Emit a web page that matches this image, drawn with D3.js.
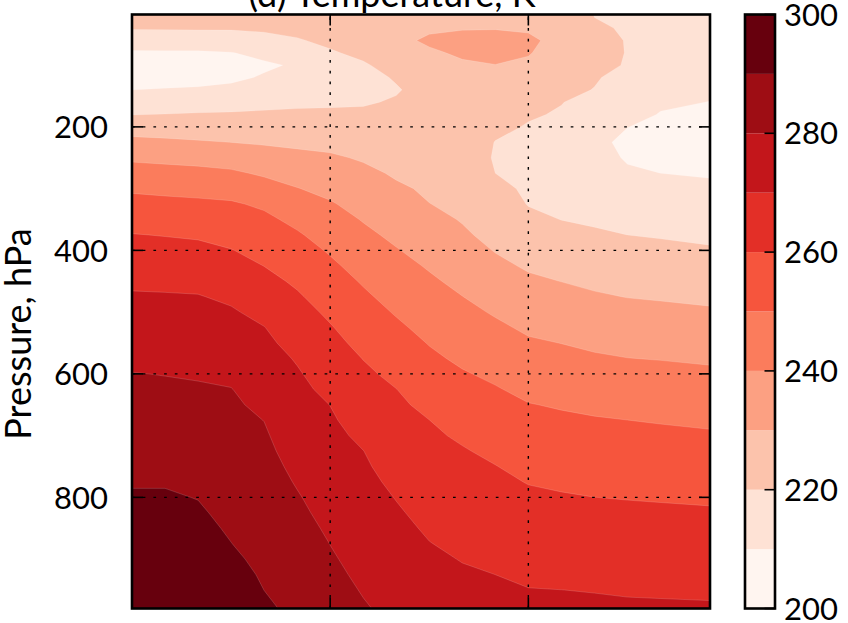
<!DOCTYPE html>
<html><head><meta charset="utf-8">
<script src="https://cdn.jsdelivr.net/npm/d3@7"></script>
<style>
body{margin:0;background:#fff;}
text{font-family:Lato,"Open Sans",sans-serif;fill:#000;}
</style>
</head><body>
<svg id="chart" width="848" height="623"></svg>
<script>
// ---- data ----
const latitudes = [0,5,10,15,20,25,30,35,40,45,50,55,60,65,70,75,80,87.5];
const pressureLevels = [18,40,60,80,100,120,140,160,180,200,225,250,275,300,325,350,375,400,425,450,475,500,525,550,575,600,625,650,675,700,725,750,775,800,825,850,875,900,925,950,980];
// temperature profile (K) at each latitude, one value per pressure level
const tempLat00 = [226,220.7,214.3,209.0,206.3,207.3,209.95,214.9,219.8,225.7,232.5,238.5,243.8,248.7,252.9,256.7,260.3,263.1,265.8,268.5,270.9,272.7,274.6,276.5,278.4,280.2,281.5,282.9,284.2,285.5,286.8,288.2,289.5,290.7,291.8,292.9,294.0,295.0,296.1,297.2,298.5];
const tempLat05 = [226,220.8,214.5,209.1,206.4,207.4,210.4,215.3,220.2,225.4,231.7,237.8,243.1,248.0,252.2,256.0,259.7,262.6,265.4,268.2,270.7,272.5,274.3,276.1,278.0,279.8,281.2,282.6,284.0,285.3,286.7,288.1,289.5,290.7,291.8,292.9,294.0,295.0,296.1,297.2,298.5];
const tempLat10 = [226,220.9,214.7,209.1,206.3,207.6,210.8,215.8,220.7,225.1,230.8,237.0,242.5,247.3,251.7,255.3,259.0,262.1,265.0,267.9,270.4,272.2,274.0,275.8,277.5,279.3,280.8,282.1,283.4,284.6,286.0,287.2,288.5,289.8,290.9,292.0,293.0,294.1,295.2,296.2,297.5];
const tempLat15 = [226,220.9,215.4,209.7,206.7,208.3,212.0,216.6,220.9,225.0,229.96,235.8,241.4,246.5,251.0,254.1,257.2,260.3,263.0,265.8,268.6,270.9,272.8,274.7,276.6,278.5,280.2,281.2,282.2,283.2,284.2,285.1,286.1,287.1,288.1,289.1,290.1,291.4,292.7,294.0,295.5];
const tempLat20 = [225,221.4,217.2,212.3,208.7,210.8,214.2,217.7,221.2,224.7,229.1,233.9,238.8,243.7,248.6,251.9,254.6,257.3,259.9,262.5,265.1,267.7,270.2,271.8,273.4,275.0,276.7,278.3,279.9,280.9,281.8,282.7,283.6,284.5,285.4,286.3,287.2,288.1,289.1,289.97,291.1];
const tempLat25 = [225.5,222.4,219.3,215.1,211.0,213.5,216.0,218.6,221.3,224.4,228.3,232.3,236.3,240.3,244.0,247.8,251.0,253.6,256.2,258.7,261.0,263.1,265.2,267.2,269.3,270.8,272.0,273.3,274.5,275.7,276.9,278.2,279.4,280.6,281.7,282.8,283.9,285.0,286.1,287.2,288.5];
const tempLat30 = [224.5,224.0,221.9,219.1,215.7,213.5,216.2,218.8,221.5,224.3,227.7,231.1,234.4,237.6,240.8,243.6,246.3,249.1,251.6,253.9,256.2,258.5,260.6,262.5,264.3,266.2,268.0,269.9,271.0,272.1,273.2,274.3,275.4,276.6,277.6,278.8,279.9,280.9,281.8,282.8,284.0];
const tempLat35 = [225.5,226.0,226.4,222.0,219.0,217.1,216.9,219.2,221.5,223.7,226.4,229.2,231.8,234.4,236.9,239.5,241.9,244.4,246.8,249.2,251.4,253.5,255.6,257.7,259.8,261.6,263.3,265.0,266.7,268.4,270.1,271.1,272.2,273.2,274.3,275.3,276.4,277.4,278.5,279.5,280.7];
const tempLat40 = [225.5,227.1,228.4,225.9,223.4,220.8,219.3,220.8,222.3,223.7,225.5,227.3,229.1,231.1,233.5,235.9,238.2,240.5,242.7,244.9,247.1,249.3,251.5,253.7,255.8,258.0,260.1,261.5,262.8,264.2,265.6,266.9,268.3,269.7,270.9,272.0,273.2,274.3,275.5,276.6,278.0];
const tempLat45 = [226.5,229.0,231.0,229.1,227.2,225.2,223.3,223.0,223.8,224.7,225.7,226.8,227.9,229.0,230.1,232.4,234.6,236.9,239.2,241.3,243.4,245.4,247.5,249.6,251.6,253.8,255.9,258.0,260.04,261.3,262.6,263.9,265.2,266.4,267.7,269.0,270.2,271.4,272.5,273.6,275.0];
const tempLat50 = [227,229.6,231.9,230.9,229.2,227.8,226.4,225.0,223.6,223.5,224.5,225.5,226.5,227.5,228.5,229.5,231.2,233.4,235.6,237.9,240.1,242.2,244.3,246.4,248.5,250.7,252.7,254.8,256.9,258.9,260.6,261.9,263.2,264.5,265.8,267.1,268.4,269.7,270.9,272.1,273.5];
const tempLat55 = [227.5,229.7,232.1,231.8,229.9,228.2,226.6,224.9,223.3,221.6,219.8,219.2,219.99,221.9,223.8,225.8,227.7,229.6,231.9,234.4,236.8,239.2,241.5,243.8,246.1,248.4,250.6,252.6,254.5,256.4,258.4,260.2,261.6,263.0,264.4,265.8,267.2,268.6,269.99,271.0,272.3];
const tempLat60 = [227.5,229.2,231.2,230.5,228.7,226.7,224.7,222.7,220.7,219.5,218.6,217.6,218.2,218.9,219.7,221.6,224.0,226.5,229.0,231.4,233.8,236.3,238.7,241.0,243.4,245.7,248.0,250.3,252.1,254.1,255.9,257.9,259.7,261.3,262.8,264.3,265.8,267.3,268.8,270.2,271.5];
const tempLat65 = [226,227.1,228.0,226.4,224.9,223.3,221.7,220.2,219.4,218.7,217.8,216.9,217.0,218.0,218.9,219.9,222.2,224.8,227.3,229.9,232.4,234.9,237.4,239.9,242.2,244.6,247.0,249.3,251.3,253.2,255.1,257.0,258.9,260.6,262.2,263.8,265.3,266.9,268.5,270.02,271.2];
const tempLat70 = [219.8,220.7,221.4,221.9,221.2,220.6,219.8,217.8,215.7,213.7,211.7,213.2,214.7,216.2,217.6,219.1,220.9,223.4,225.9,228.4,230.9,233.4,236.0,238.5,241.0,243.4,245.9,248.3,250.6,252.5,254.4,256.2,258.1,260.02,261.6,263.3,264.9,266.5,268.1,269.8,271.0];
const tempLat75 = [219.0,219.5,219.8,219.8,219.7,217.8,215.9,214.0,212.1,210.1,208.5,209.2,211.1,213.3,215.6,217.8,219.99,222.5,224.9,227.4,229.8,232.4,235.0,237.6,240.1,242.6,245.1,247.6,250.02,252.0,253.9,255.8,257.8,259.7,261.4,263.0,264.7,266.3,267.9,269.5,270.8];
const tempLat80 = [218.0,216.9,215.9,214.8,213.8,212.8,211.8,210.8,209.7,208.2,206.5,208.3,209.99,212.3,214.7,217.0,219.4,221.8,224.3,226.8,229.3,231.8,234.5,237.1,239.7,242.1,244.6,247.0,249.5,251.5,253.5,255.5,257.5,259.4,261.2,262.8,264.5,266.1,267.8,269.4,270.7];
const tempLat87 = [217.5,216.3,215.3,214.2,213.1,212.1,211.0,209.9,208.5,207.0,205.8,207.5,209.3,211.4,213.7,216.1,218.4,220.8,223.4,225.9,228.4,231.0,233.6,236.3,238.9,241.4,243.9,246.3,248.7,250.9,252.9,254.9,256.9,259.0,260.8,262.5,264.2,265.8,267.5,269.2,270.6];
const temperatureColumns = [tempLat00,tempLat05,tempLat10,tempLat15,tempLat20,tempLat25,tempLat30,tempLat35,tempLat40,tempLat45,tempLat50,tempLat55,tempLat60,tempLat65,tempLat70,tempLat75,tempLat80,tempLat87];

const contourLevels = [200,210,220,230,240,250,260,270,280,290,300];
const bandColors = ["#fff5f0","#fee2d5","#fcc3ac","#fca082","#fb7c5c","#f6553d","#e32f27","#c3161b","#9e0d14","#67000d"];
const yTickValues = [200,400,600,800];
const xTickValues = [30,60];
const colorbarTicks = [200,220,240,260,280,300];
const titleText = "(d) Temperature, K";
const yLabelText = "Pressure, hPa";

// ---- layout ----
const svg = d3.select("#chart");
const plot = {left:132, right:710, top:14.5, bottom:608.5};
const x = d3.scaleLinear().domain([0, 87.5]).range([plot.left, plot.right]);
const y = d3.scaleLinear().domain([18, 980]).range([plot.top, plot.bottom]);

const nx = latitudes.length, ny = pressureLevels.length;
const grid = [];
for (let j = 0; j < ny; j++) for (let i = 0; i < nx; i++) grid.push(temperatureColumns[i][j]);

function interpIndex(arr, s) {
  s = Math.max(0, Math.min(arr.length - 1, s));
  const i = Math.min(arr.length - 2, Math.floor(s));
  const t = s - i;
  return arr[i] + t * (arr[i + 1] - arr[i]);
}
const proj = d3.geoTransform({
  point(px, py) {
    this.stream.point(x(interpIndex(latitudes, px - 0.5)), y(interpIndex(pressureLevels, py - 0.5)));
  }
});
const path = d3.geoPath(proj);

const contours = d3.contours().size([nx, ny]).thresholds(contourLevels.slice(0, -1))(grid);

svg.append("defs").append("clipPath").attr("id","clip")
  .append("rect").attr("x",plot.left).attr("y",plot.top)
  .attr("width",plot.right-plot.left).attr("height",plot.bottom-plot.top);

svg.append("g").attr("clip-path","url(#clip)")
  .selectAll("path").data(contours).join("path")
  .attr("d", path)
  .attr("fill", d => bandColors[contourLevels.indexOf(d.value)])
  .attr("stroke", (d,i) => i === 0 ? "none" : "#ffffff")
  .attr("stroke-opacity", 0.22)
  .attr("stroke-width", 0.7);

// grid lines
const gridG = svg.append("g").attr("stroke","#000").attr("stroke-width",1.4).attr("stroke-dasharray","2.7,8").attr("fill","none");
yTickValues.forEach(v => {
  gridG.append("line").attr("x1",plot.left).attr("x2",plot.right).attr("y1",y(v)).attr("y2",y(v));
});
xTickValues.forEach(v => {
  gridG.append("line").attr("x1",x(v)).attr("x2",x(v)).attr("y1",plot.bottom).attr("y2",plot.top);
});

// ticks (inward, all sides)
const tickG = svg.append("g").attr("stroke","#000").attr("stroke-width",1.6);
const tl = 11;
yTickValues.forEach(v => {
  tickG.append("line").attr("x1",plot.left).attr("x2",plot.left+tl).attr("y1",y(v)).attr("y2",y(v));
  tickG.append("line").attr("x1",plot.right).attr("x2",plot.right-tl).attr("y1",y(v)).attr("y2",y(v));
});
xTickValues.forEach(v => {
  tickG.append("line").attr("x1",x(v)).attr("x2",x(v)).attr("y1",plot.bottom).attr("y2",plot.bottom-tl);
  tickG.append("line").attr("x1",x(v)).attr("x2",x(v)).attr("y1",plot.top).attr("y2",plot.top+tl);
});

// frame
svg.append("rect").attr("x",plot.left).attr("y",plot.top)
  .attr("width",plot.right-plot.left).attr("height",plot.bottom-plot.top)
  .attr("fill","none").attr("stroke","#000").attr("stroke-width",2.6);

// y tick labels
svg.append("g").selectAll("text").data(yTickValues).join("text")
  .attr("x",108).attr("y",d=>y(d)).attr("dy","0.36em")
  .attr("text-anchor","end").attr("font-size",31).text(d=>d);

// y label
svg.append("text").attr("transform","translate(31,334) rotate(-90)")
  .attr("text-anchor","middle").attr("font-size",36).text(yLabelText);

// title
svg.append("text").attr("x",392).attr("y",7.3).attr("text-anchor","middle")
  .attr("font-size",36).text(titleText);

// colorbar
const cb = {left:745, right:775};
const cy = d3.scaleLinear().domain([200,300]).range([plot.bottom, plot.top]);
svg.append("g").selectAll("rect").data(bandColors).join("rect")
  .attr("x",cb.left).attr("width",cb.right-cb.left)
  .attr("y",(d,i)=>cy(contourLevels[i+1]))
  .attr("height",(d,i)=>cy(contourLevels[i])-cy(contourLevels[i+1]))
  .attr("fill",d=>d);
const cbt = svg.append("g").attr("stroke","#000").attr("stroke-width",1.6);
colorbarTicks.forEach(v => {
  cbt.append("line").attr("x1",cb.right).attr("x2",cb.right-10.5).attr("y1",cy(v)).attr("y2",cy(v));
});
svg.append("rect").attr("x",cb.left).attr("y",plot.top).attr("width",cb.right-cb.left)
  .attr("height",plot.bottom-plot.top).attr("fill","none").attr("stroke","#000").attr("stroke-width",2.6);
svg.append("g").selectAll("text").data(colorbarTicks).join("text")
  .attr("x",784).attr("y",d=>cy(d)).attr("dy","0.36em")
  .attr("font-size",31).text(d=>d);
</script>
</body></html>
